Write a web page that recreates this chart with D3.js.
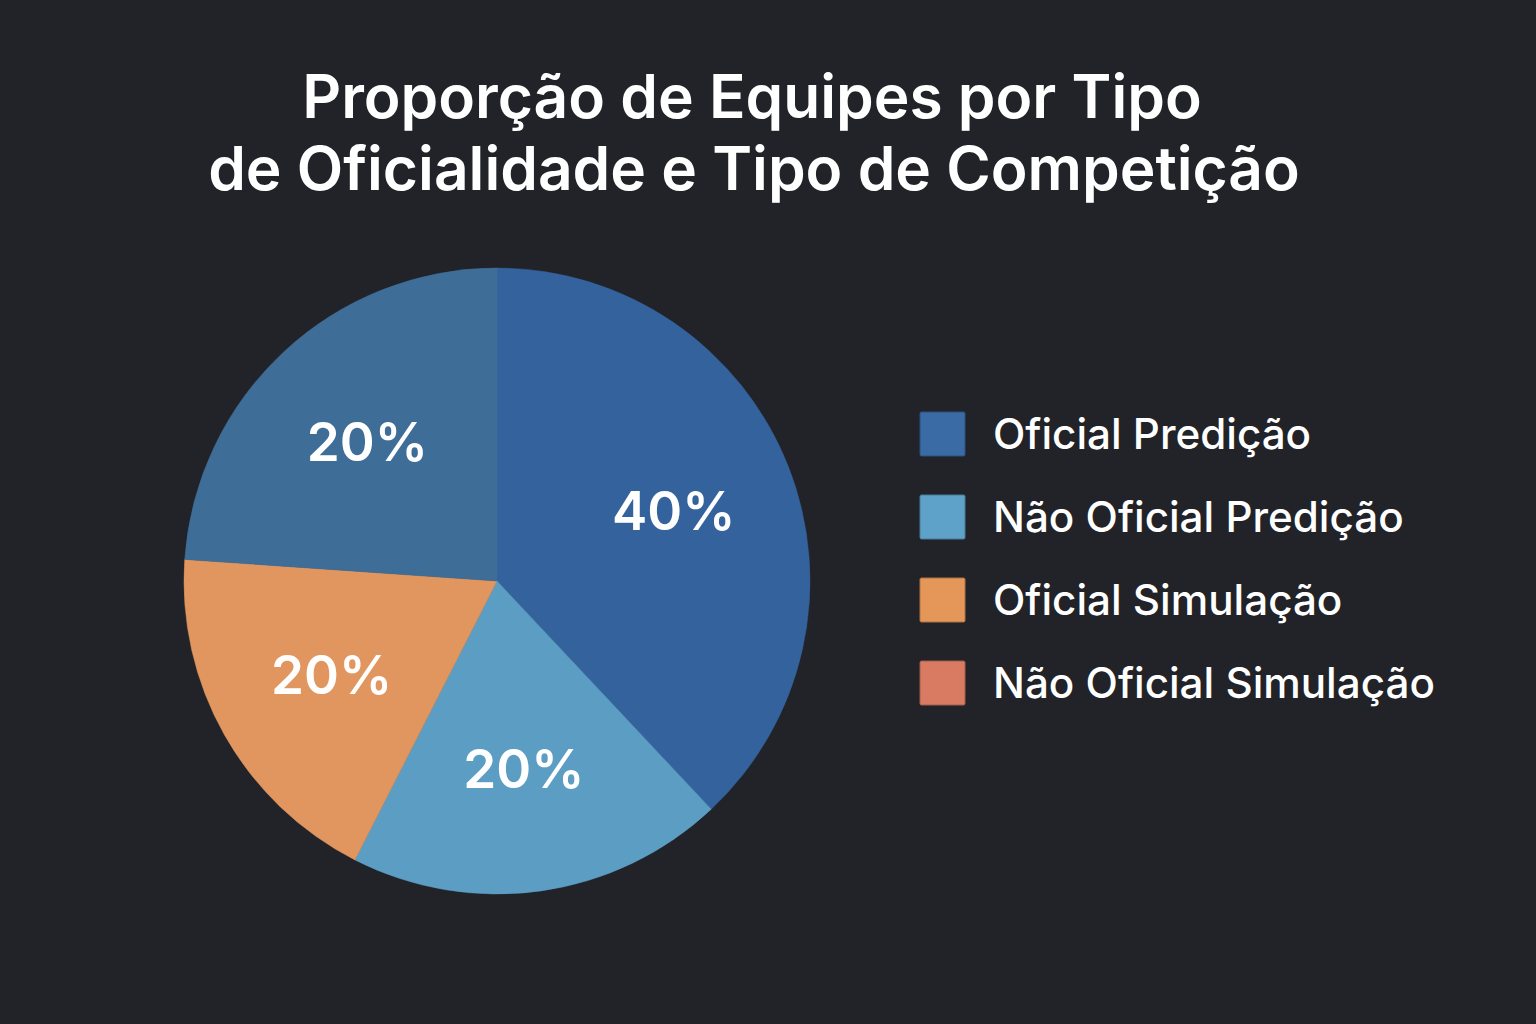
<!DOCTYPE html>
<html><head><meta charset="utf-8">
<script src="https://cdn.jsdelivr.net/npm/d3@7"></script>
<style>html,body{margin:0;padding:0;background:#212328;}svg{display:block;}</style>
</head><body>
<script>
// Data
const categories = ["Oficial Predição", "Não Oficial Predição", "Oficial Simulação", "Não Oficial Simulação"];
const sliceShares = [38.0, 19.5, 18.6, 23.9];          // angular share as drawn
const sliceLabels = ["40%", "20%", "20%", "20%"];       // printed labels
const sliceColors = ["#34629c", "#5b9dc3", "#e0965e", "#3e6e98"];
const legendColors = ["#3a6ba5", "#5ea2c9", "#e5975a", "#d97b62"];
const titleLines = ["Proporção de Equipes por Tipo", "de Oficialidade e Tipo de Competição"];

const W = 1536, H = 1024;
const svg = d3.select("body").append("svg").attr("width", W).attr("height", H);
svg.append("rect").attr("width", W).attr("height", H).attr("fill", "#212328");

// Title
const title = svg.append("g").attr("font-family", "Inter, 'Noto Sans', sans-serif")
  .attr("font-weight", 600).attr("fill", "#ffffff").attr("text-anchor", "middle");
const t1 = title.append("text").attr("x", 752).attr("y", 118).attr("font-size", 60).text(titleLines[0]);
const t2 = title.append("text").attr("x", 754).attr("y", 190).attr("font-size", 60).text(titleLines[1]);
const w2 = t2.node().getComputedTextLength();
const fs = 60 * 1092 / w2;
t1.attr("font-size", fs); t2.attr("font-size", fs);

// Pie
const cx = 497, cy = 581, r = 313;
const pie = d3.pie().sort(null).value(d => d.v);
const data = categories.map((c, i) => ({ c, v: sliceShares[i], label: sliceLabels[i], color: sliceColors[i] }));
const arcs = pie(data);
const arc = d3.arc().innerRadius(0).outerRadius(r);
const labelArc = d3.arc().innerRadius(190).outerRadius(190);
const g = svg.append("g").attr("transform", `translate(${cx},${cy})`);
g.selectAll("path").data(arcs).join("path")
  .attr("d", arc).attr("fill", d => d.data.color)
  .attr("stroke", d => d.data.color).attr("stroke-width", 0.5);
g.selectAll("text").data(arcs).join("text")
  .attr("transform", d => `translate(${labelArc.centroid(d)})`)
  .attr("text-anchor", "middle").attr("dy", "0.36em")
  .attr("font-family", "Inter, 'Noto Sans', sans-serif").attr("font-weight", 600)
  .attr("font-size", 53).attr("fill", "#ffffff")
  .text(d => d.data.label);

// Legend
const lg = svg.append("g").attr("transform", "translate(920,412)");
const items = lg.selectAll("g").data(categories).join("g")
  .attr("transform", (d, i) => `translate(0,${i * 83})`);
items.append("rect").attr("width", 45).attr("height", 44).attr("rx", 1.5)
  .attr("fill", (d, i) => legendColors[i])
  .attr("stroke", (d, i) => d3.color(legendColors[i]).darker(0.8)).attr("stroke-width", 1);
const ltexts = items.append("text").attr("x", 73).attr("y", 22).attr("dy", "0.36em")
  .attr("font-family", "Inter, 'Noto Sans', sans-serif").attr("font-weight", 500)
  .attr("font-size", 42).attr("fill", "#ffffff").text(d => d);
const lw = ltexts.nodes()[3].getComputedTextLength();
ltexts.attr("font-size", 42 * 442 / lw);
</script>
</body></html>
